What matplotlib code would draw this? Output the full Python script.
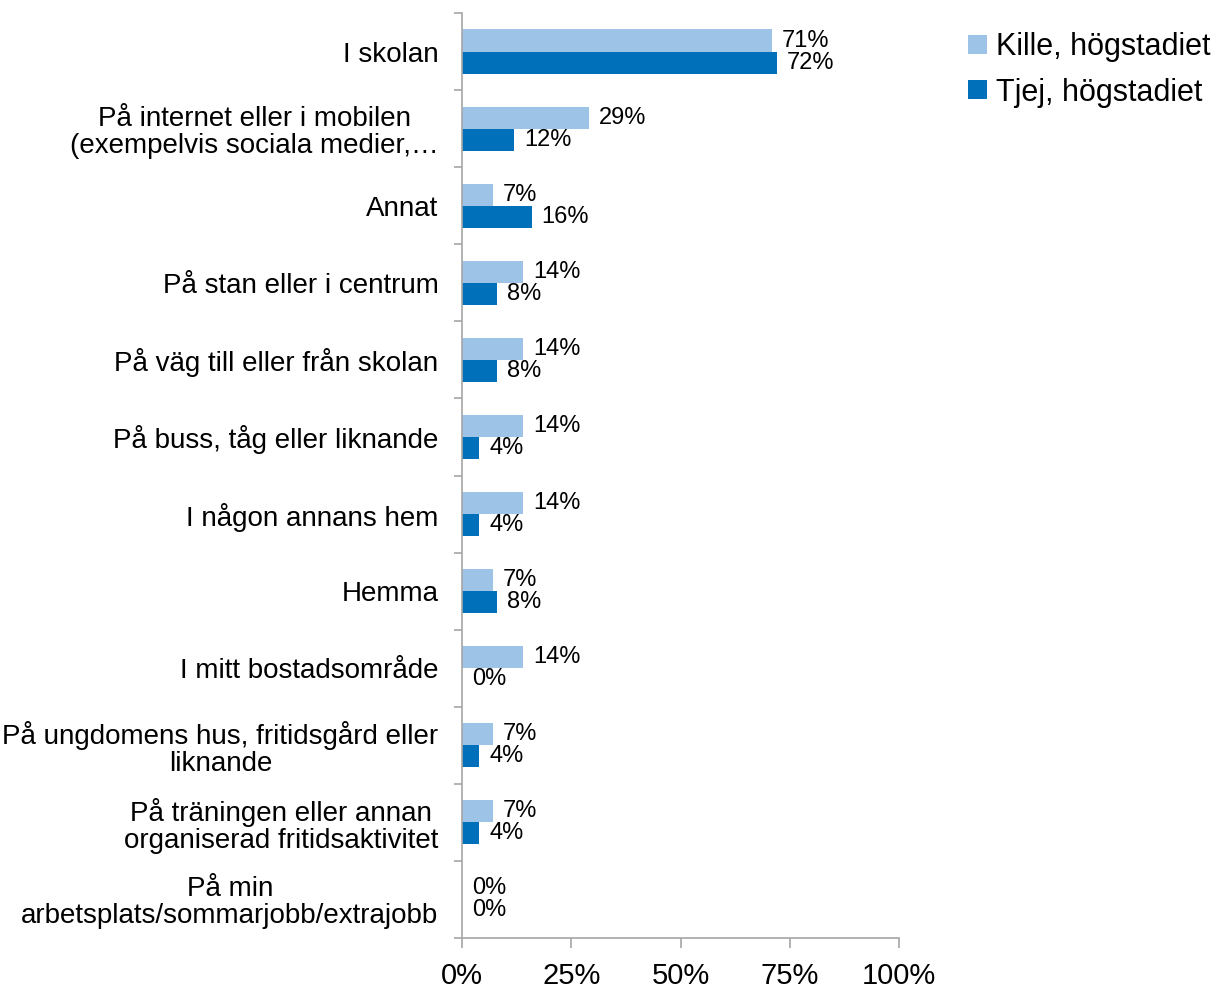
import matplotlib
matplotlib.use("Agg")
import matplotlib.pyplot as plt
import numpy as np

plt.rcParams['font.family'] = ['Liberation Sans', 'DejaVu Sans']

categories = [
    "I skolan",
    "På internet eller i mobilen\n(exempelvis sociala medier,…",
    "Annat",
    "På stan eller i centrum",
    "På väg till eller från skolan",
    "På buss, tåg eller liknande",
    "I någon annans hem",
    "Hemma",
    "I mitt bostadsområde",
    "På ungdomens hus, fritidsgård eller\nliknande",
    "På träningen eller annan\norganiserad fritidsaktivitet",
    "På min\narbetsplats/sommarjobb/extrajobb",
]
kille = [71, 29, 7, 14, 14, 14, 14, 7, 14, 7, 7, 0]
tjej = [72, 12, 16, 8, 8, 4, 4, 8, 0, 4, 4, 0]
series_names = ["Kille, högstadiet", "Tjej, högstadiet"]
xticks = [0, 25, 50, 75, 100]
xticklabels = ["0%", "25%", "50%", "75%", "100%"]

c_light = "#9DC3E6"
c_dark = "#0070BA"
gray = "#A6A6A6"

fig = plt.figure(figsize=(12.14, 9.89), dpi=100)
ax = fig.add_axes([462/1214, 1-938/989, (899-462)/1214, (938-13)/989])

n = len(categories)
y = np.arange(n)
h = 0.286
ax.barh(y - h/2, kille, height=h, color=c_light, label=series_names[0])
ax.barh(y + h/2, tjej, height=h, color=c_dark, label=series_names[1])

for yi, v in zip(y, kille):
    ax.annotate(f"{v}%", (v, yi - h/2), xytext=(7, 0), textcoords="offset points",
                ha="left", va="center", fontsize=17, color="black")
for yi, v in zip(y, tjej):
    ax.annotate(f"{v}%", (v, yi + h/2), xytext=(7, 0), textcoords="offset points",
                ha="left", va="center", fontsize=17, color="black")

ax.set_ylim(n - 0.5, -0.5)
ax.set_xlim(0, 100)
ax.set_yticks(np.arange(n + 1) - 0.5)
ax.set_yticklabels([])
ax.set_yticks(y, minor=True)
ax.set_yticklabels(categories, minor=True, fontsize=20, multialignment="center",
                   linespacing=1.05)
ax.tick_params(axis="y", which="minor", length=0, pad=17)
ax.tick_params(axis="y", which="major", length=6, color=gray, width=1.2)
ax.set_xticks(xticks)
ax.set_xticklabels(xticklabels, fontsize=21)
ax.tick_params(axis="x", length=7, color=gray, width=1.2, pad=10)

for s in ["top", "right"]:
    ax.spines[s].set_visible(False)
for s in ["left", "bottom"]:
    ax.spines[s].set_color(gray)
    ax.spines[s].set_linewidth(1.2)

fig.legend(loc="upper left", bbox_to_anchor=(956/1214, 1-20/989), frameon=False,
           fontsize=22, handlelength=0.6, handleheight=0.6, handletextpad=0.3,
           labelspacing=0.5, borderaxespad=0)

fig.savefig("out.png", dpi=100)
